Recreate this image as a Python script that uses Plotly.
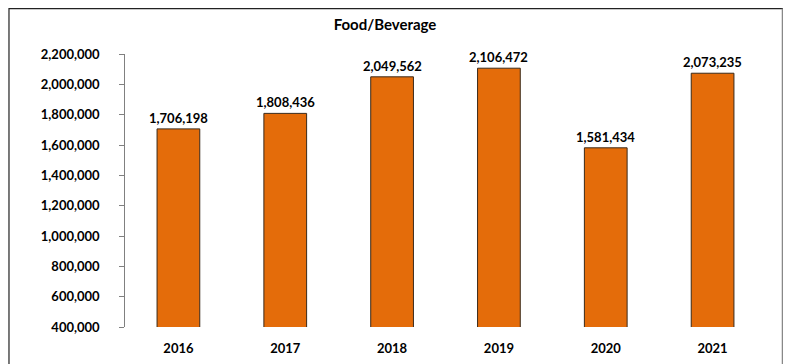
import plotly.graph_objects as go

years = ["2016", "2017", "2018", "2019", "2020", "2021"]
values = [1706198, 1808436, 2049562, 2106472, 1581434, 2073235]
y_ticks = [400000, 600000, 800000, 1000000, 1200000, 1400000, 1600000,
           1800000, 2000000, 2200000]
title_text = "Food/Beverage"

BAR = "#E46C0A"
FONT = "Lato, 'Open Sans', Arial, sans-serif"
PAD = "\u00a0" * 5

fig = go.Figure()
fig.add_trace(go.Bar(
    x=years, y=values,
    marker=dict(color=BAR, line=dict(color="#3a2a1a", width=1)),
    hoverinfo="x+y",
))

# category positions (numeric-looking category names would be read as indices)
for i, v in enumerate(values):
    fig.add_annotation(x=i, y=v, xref="x", yref="y", text=f"<b>{v:,}</b>",
                       showarrow=False, yanchor="bottom", yshift=1,
                       font=dict(family=FONT, size=13, color="black"))

# chart border (decoration)
fig.add_shape(type="rect", xref="paper", yref="paper",
              x0=-0.1810, x1=1.0265, y0=-0.3, y1=1.1665,
              line=dict(color="#222", width=1.2), layer="below")
fig.add_shape(type="line", xref="paper", yref="paper",
              x0=1.0265, x1=1.0265, y0=-0.3, y1=1.1665,
              line=dict(color="#888", width=2.5))

fig.update_layout(
    width=791, height=364,
    margin=dict(l=117, r=33, t=46, b=45),
    paper_bgcolor="white", plot_bgcolor="white",
    showlegend=False,
    bargap=0.6,
    title=dict(text="<b>" + title_text + "</b>", x=377 / 791, xref="container",
               xanchor="center", y=1 - 17 / 364, yanchor="middle",
               font=dict(family=FONT, size=15, color="black")),
    font=dict(family=FONT, size=13, color="black"),
    xaxis=dict(type="category", range=[-0.5, len(years) - 0.5],
               showline=False, showgrid=False,
               ticks="outside", ticklen=9, tickcolor="rgba(0,0,0,0)",
               tickvals=list(range(len(years))),
               ticktext=[f"<b>{y}</b>" for y in years],
               tickfont=dict(family=FONT, size=13, color="black")),
    yaxis=dict(range=[400000, 2200000], showgrid=False, zeroline=False,
               showline=True, linecolor="#808080", linewidth=1.2,
               ticks="outside", ticklen=5, tickcolor="#808080",
               tickvals=y_ticks,
               ticktext=[f"<b>{t:,}</b>{PAD}" for t in y_ticks],
               tickfont=dict(family=FONT, size=13, color="black")),
)

fig.write_html("out.html")
